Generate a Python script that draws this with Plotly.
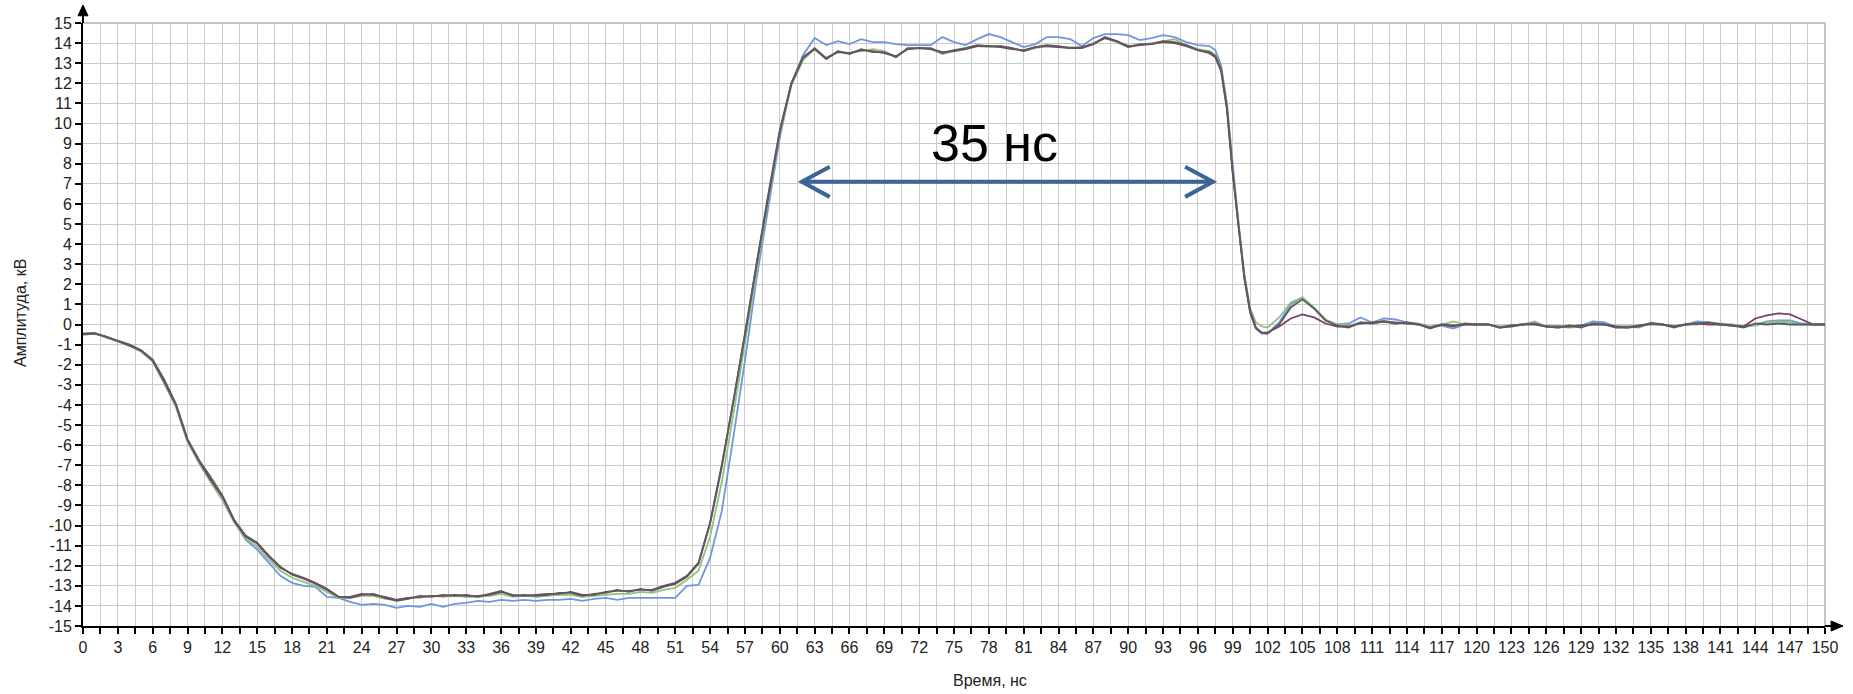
import plotly.graph_objects as go

# time samples, ns
time_ns = list(range(0, 98)) + [97.5, 98, 98.5, 99, 99.5, 100, 100.5, 101, 101.5] + list(range(102, 151))

# amplitude, kV (four overlaid records)
blue_kv = [
    -0.45, -0.42, -0.65, -0.82, -1.0, -1.3, -1.8, -2.9, -4.05, -5.8,
    -6.85, -7.8, -8.7, -9.8, -10.7, -11.2, -11.85, -12.5, -12.85, -13.0,
    -13.05, -13.55, -13.6,
    -13.8, -13.95, -13.9, -13.95, -14.1, -14.0, -14.05, -13.9, -14.05, -13.9,
    -13.85, -13.75, -13.8, -13.7, -13.75, -13.7, -13.75, -13.7, -13.7, -13.65,
    -13.75, -13.65, -13.6, -13.7, -13.6, -13.6, -13.6, -13.6, -13.6,
    -13.0, -12.95, -11.6, -9.3, -5.6, -1.8, 2.3, 5.9, 9.3, 12.0, 13.4, 14.25,
    13.9, 14.1, 13.95, 14.2, 14.05, 14.05, 13.95, 13.9, 13.9, 13.9,
    14.3, 14.05, 13.9, 14.2, 14.45, 14.3, 14.05, 13.8, 13.95, 14.3,
    14.3, 14.2, 13.85, 14.25, 14.45, 14.45, 14.4, 14.15, 14.25, 14.4,
    14.3, 14.05, 13.9, 13.85,
    13.65, 12.9, 11.0, 7.8, 5.0, 2.4, 0.6, -0.2, -0.45,
    -0.45, 0.1, 1.0, 1.35, 0.8, 0.2, 0.0, 0.05, 0.35, 0.1,
    0.3, 0.25, 0.1, 0.0, -0.15, -0.05, -0.2, 0.0, 0.0, 0.0,
    -0.15, -0.05, 0.0, 0.05, -0.1, -0.15, -0.1, -0.05, 0.15, 0.1,
    -0.1, -0.1, -0.05, 0.0, 0.0, -0.1, 0.0, 0.15, 0.1, 0.0,
    -0.05, -0.1, 0.0, 0.15, 0.2, 0.2, 0.05, 0.0, 0.0,
]
green_kv = [
    -0.48, -0.45, -0.63, -0.85, -1.05, -1.35, -1.85, -2.95, -4.1, -5.85,
    -6.9, -7.85, -8.75, -9.8, -10.65, -11.05, -11.7, -12.25, -12.6, -12.8,
    -13.0, -13.3, -13.6,
    -13.6, -13.5, -13.5, -13.65, -13.7, -13.6, -13.6, -13.5, -13.55, -13.5,
    -13.55, -13.55, -13.5, -13.4, -13.55, -13.5, -13.55, -13.5, -13.45, -13.45,
    -13.55, -13.5, -13.45, -13.4, -13.4, -13.3, -13.35, -13.2, -13.1,
    -12.7, -12.25, -10.55, -7.85, -4.5, -0.9, 2.75, 6.2, 9.5, 11.9, 13.15, 13.7,
    13.25, 13.6, 13.5, 13.6, 13.7, 13.6, 13.3, 13.7, 13.75, 13.7,
    13.45, 13.6, 13.75, 13.85, 13.8, 13.85, 13.75, 13.6, 13.75, 13.85,
    13.8, 13.8, 13.75, 14.0, 14.25, 14.05, 13.8, 13.9, 14.0, 14.1,
    14.2, 13.9, 13.7, 13.6,
    13.4, 12.75, 10.9, 7.7, 5.0, 2.5, 0.8, 0.1, -0.1,
    -0.15, 0.35, 1.1, 1.35, 0.85, 0.25, 0.0, -0.05, 0.1, 0.1,
    0.2, 0.05, 0.1, 0.05, -0.1, 0.0, 0.15, 0.0, 0.0, 0.0,
    -0.1, -0.05, 0.0, 0.15, -0.1, -0.1, -0.15, -0.1, 0.0, 0.0,
    -0.15, -0.1, -0.15, 0.1, 0.0, -0.1, 0.0, 0.0, 0.1, 0.05,
    0.0, -0.1, -0.05, 0.1, 0.15, 0.1, 0.0, 0.0, 0.0,
]
purple_kv = [
    -0.5, -0.45, -0.6, -0.82, -1.05, -1.3, -1.8, -2.85, -4.0, -5.75,
    -6.8, -7.75, -8.55, -9.75, -10.55, -10.9, -11.55, -12.1, -12.4, -12.6,
    -12.85, -13.15, -13.55,
    -13.55, -13.4, -13.45, -13.55, -13.7, -13.6, -13.55, -13.5, -13.5, -13.45,
    -13.5, -13.5, -13.45, -13.3, -13.45, -13.5, -13.45, -13.4, -13.4, -13.3,
    -13.45, -13.45, -13.3, -13.25, -13.25, -13.2, -13.2, -13.0, -12.85,
    -12.5, -11.85, -9.85, -7.0, -3.85, -0.45, 3.05, 6.45, 9.65, 12.0, 13.25, 13.75,
    13.25, 13.55, 13.5, 13.65, 13.6, 13.5, 13.35, 13.7, 13.75, 13.7,
    13.55, 13.6, 13.7, 13.85, 13.85, 13.8, 13.7, 13.65, 13.8, 13.85,
    13.8, 13.75, 13.8, 13.95, 14.25, 14.1, 13.85, 13.9, 13.95, 14.05,
    14.0, 13.85, 13.65, 13.5,
    13.3, 12.6, 10.7, 7.5, 4.8, 2.3, 0.6, -0.2, -0.4,
    -0.4, -0.1, 0.3, 0.5, 0.35, 0.05, -0.1, -0.1, 0.05, 0.1,
    0.15, 0.05, 0.1, 0.0, -0.15, 0.0, -0.05, 0.0, 0.0, 0.0,
    -0.15, -0.05, 0.0, 0.0, -0.1, -0.1, -0.1, -0.05, 0.0, 0.0,
    -0.1, -0.15, -0.05, 0.05, 0.0, -0.1, 0.0, 0.05, 0.0, 0.0,
    -0.05, -0.1, 0.3, 0.45, 0.55, 0.5, 0.25, 0.0, 0.0,
]
gray_kv = [
    -0.46, -0.43, -0.62, -0.8, -1.0, -1.28, -1.75, -2.75, -3.95, -5.7,
    -6.75, -7.6, -8.5, -9.7, -10.5, -10.85, -11.5, -12.05, -12.45, -12.65,
    -12.9, -13.2, -13.55,
    -13.6, -13.45, -13.4, -13.6, -13.75, -13.65, -13.5, -13.55, -13.45, -13.5,
    -13.45, -13.55, -13.4, -13.25, -13.5, -13.45, -13.5, -13.45, -13.35, -13.35,
    -13.5, -13.4, -13.35, -13.2, -13.3, -13.15, -13.25, -13.05, -12.9,
    -12.55, -11.9, -9.9, -7.1, -3.9, -0.5, 3.0, 6.4, 9.6, 12.0, 13.3, 13.7,
    13.2, 13.6, 13.45, 13.7, 13.55, 13.55, 13.3, 13.75, 13.75, 13.75,
    13.5, 13.65, 13.75, 13.9, 13.85, 13.85, 13.75, 13.6, 13.8, 13.9,
    13.85, 13.75, 13.75, 13.95, 14.3, 14.1, 13.8, 13.95, 13.95, 14.1,
    14.05, 13.9, 13.65, 13.55,
    13.35, 12.7, 10.8, 7.6, 4.9, 2.4, 0.7, -0.15, -0.42,
    -0.45, 0.0, 0.85, 1.25, 0.8, 0.2, -0.05, -0.15, 0.1, 0.05,
    0.15, 0.1, 0.05, 0.0, -0.2, 0.0, -0.1, 0.05, 0.0, 0.0,
    -0.15, -0.1, 0.0, 0.05, -0.1, -0.15, -0.05, -0.15, 0.05, 0.0,
    -0.15, -0.15, -0.1, 0.05, 0.0, -0.15, 0.0, 0.05, 0.1, 0.0,
    -0.05, -0.15, 0.05, 0.0, 0.05, 0.0, 0.0, 0.0, 0.0,
]

series = [
    ("blue", blue_kv, "#6f96e0"),
    ("green", green_kv, "#92c27e"),
    ("purple", purple_kv, "#7a3f6c"),
    ("gray", gray_kv, "#5c5c5c"),
]

y_ticks = list(range(-15, 16))
y_labels = [str(v) for v in y_ticks]  # hyphen-minus as in the original

pulse_label = "35 нс"
pulse_start, pulse_end, pulse_level = 61.9, 97.3, 7.1

FONT = "Liberation Sans, Arial, sans-serif"
GRID = "#cbcbcb"

fig = go.Figure()
for name, vals, col in series:
    fig.add_trace(go.Scatter(x=time_ns, y=vals, mode="lines", name=name,
                             line=dict(color=col, width=1.8), showlegend=False,
                             hoverinfo="skip"))

fig.update_layout(
    width=1853, height=694,
    margin=dict(l=83, r=28, t=23, b=68),
    paper_bgcolor="white", plot_bgcolor="white",
    font=dict(family=FONT, size=16, color="#222"),
    xaxis=dict(range=[0, 150], tickmode="linear", tick0=0, dtick=3,
               showgrid=True, gridcolor=GRID, gridwidth=1, zeroline=False,
               showline=True, linecolor="black", linewidth=2,
               ticks="outside", ticklen=6, tickwidth=1.5, tickcolor="black",
               tickfont=dict(family=FONT, size=16, color="#222"),
               minor=dict(dtick=1.5, tick0=0, ticks="outside", ticklen=6,
                          tickwidth=1.5, tickcolor="black",
                          showgrid=True, gridcolor=GRID, gridwidth=1)),
    yaxis=dict(range=[-15, 15], tickmode="array", tickvals=y_ticks, ticktext=y_labels,
               showgrid=True, gridcolor=GRID, gridwidth=1, zeroline=False,
               showline=True, linecolor="black", linewidth=2,
               ticks="outside", ticklen=6, tickwidth=1.5, tickcolor="black",
               tickfont=dict(family=FONT, size=16, color="#222")),
)

# gray border at top and right
fig.add_shape(type="line", xref="paper", yref="paper", x0=0, x1=1, y0=1, y1=1,
              line=dict(color="#b0b0b0", width=1.5), layer="below")
fig.add_shape(type="line", xref="paper", yref="paper", x0=1, x1=1, y0=0, y1=1,
              line=dict(color="#b0b0b0", width=1.5), layer="below")

# axis arrows
pw, ph = 1742.0, 603.0
fig.add_shape(type="line", xref="paper", yref="paper", x0=0, x1=0, y0=1, y1=1.015,
              line=dict(color="black", width=2))
fig.add_shape(type="path", xref="paper", yref="paper",
              path=f"M {-5/pw} 1.012 L 0 {1 + 18/ph} L {5/pw} 1.012 Z",
              fillcolor="black", line=dict(color="black", width=1))
fig.add_shape(type="line", xref="paper", yref="paper", x0=1, x1=1.005, y0=0, y1=0,
              line=dict(color="black", width=2))
fig.add_shape(type="path", xref="paper", yref="paper",
              path=f"M 1.0035 {5/ph} L {1 + 18/pw} 0 L 1.0035 {-5/ph} Z",
              fillcolor="black", line=dict(color="black", width=1))

# pulse width arrow
ARROW = "#3c6496"
fig.add_shape(type="line", x0=pulse_start, x1=pulse_end, y0=pulse_level, y1=pulse_level,
              line=dict(color=ARROW, width=4))
fig.add_shape(type="path",
              path=f"M {pulse_start + 2.4} {pulse_level + 0.75} L {pulse_start} {pulse_level} L {pulse_start + 2.4} {pulse_level - 0.75}",
              line=dict(color=ARROW, width=4))
fig.add_shape(type="path",
              path=f"M {pulse_end - 2.4} {pulse_level + 0.75} L {pulse_end} {pulse_level} L {pulse_end - 2.4} {pulse_level - 0.75}",
              line=dict(color=ARROW, width=4))
fig.add_annotation(x=78.5, y=9.05, text=pulse_label, showarrow=False,
                   font=dict(family=FONT, size=52, color="black"),
                   xanchor="center", yanchor="middle")

# axis titles
fig.add_annotation(xref="paper", yref="paper", x=(20 - 83) / pw, y=(626 - 313) / ph,
                   text="Амплитуда, кВ", textangle=-90, showarrow=False,
                   font=dict(family=FONT, size=16, color="#222"),
                   xanchor="center", yanchor="middle")
fig.add_annotation(xref="paper", yref="paper", x=(990 - 83) / pw, y=-(680 - 626) / ph,
                   text="Время, нс", showarrow=False,
                   font=dict(family=FONT, size=16, color="#222"),
                   xanchor="center", yanchor="middle")

fig.write_html("out.html", config={"displayModeBar": False},
               post_script="document.body.style.margin='0px';document.body.style.overflow='hidden';")
